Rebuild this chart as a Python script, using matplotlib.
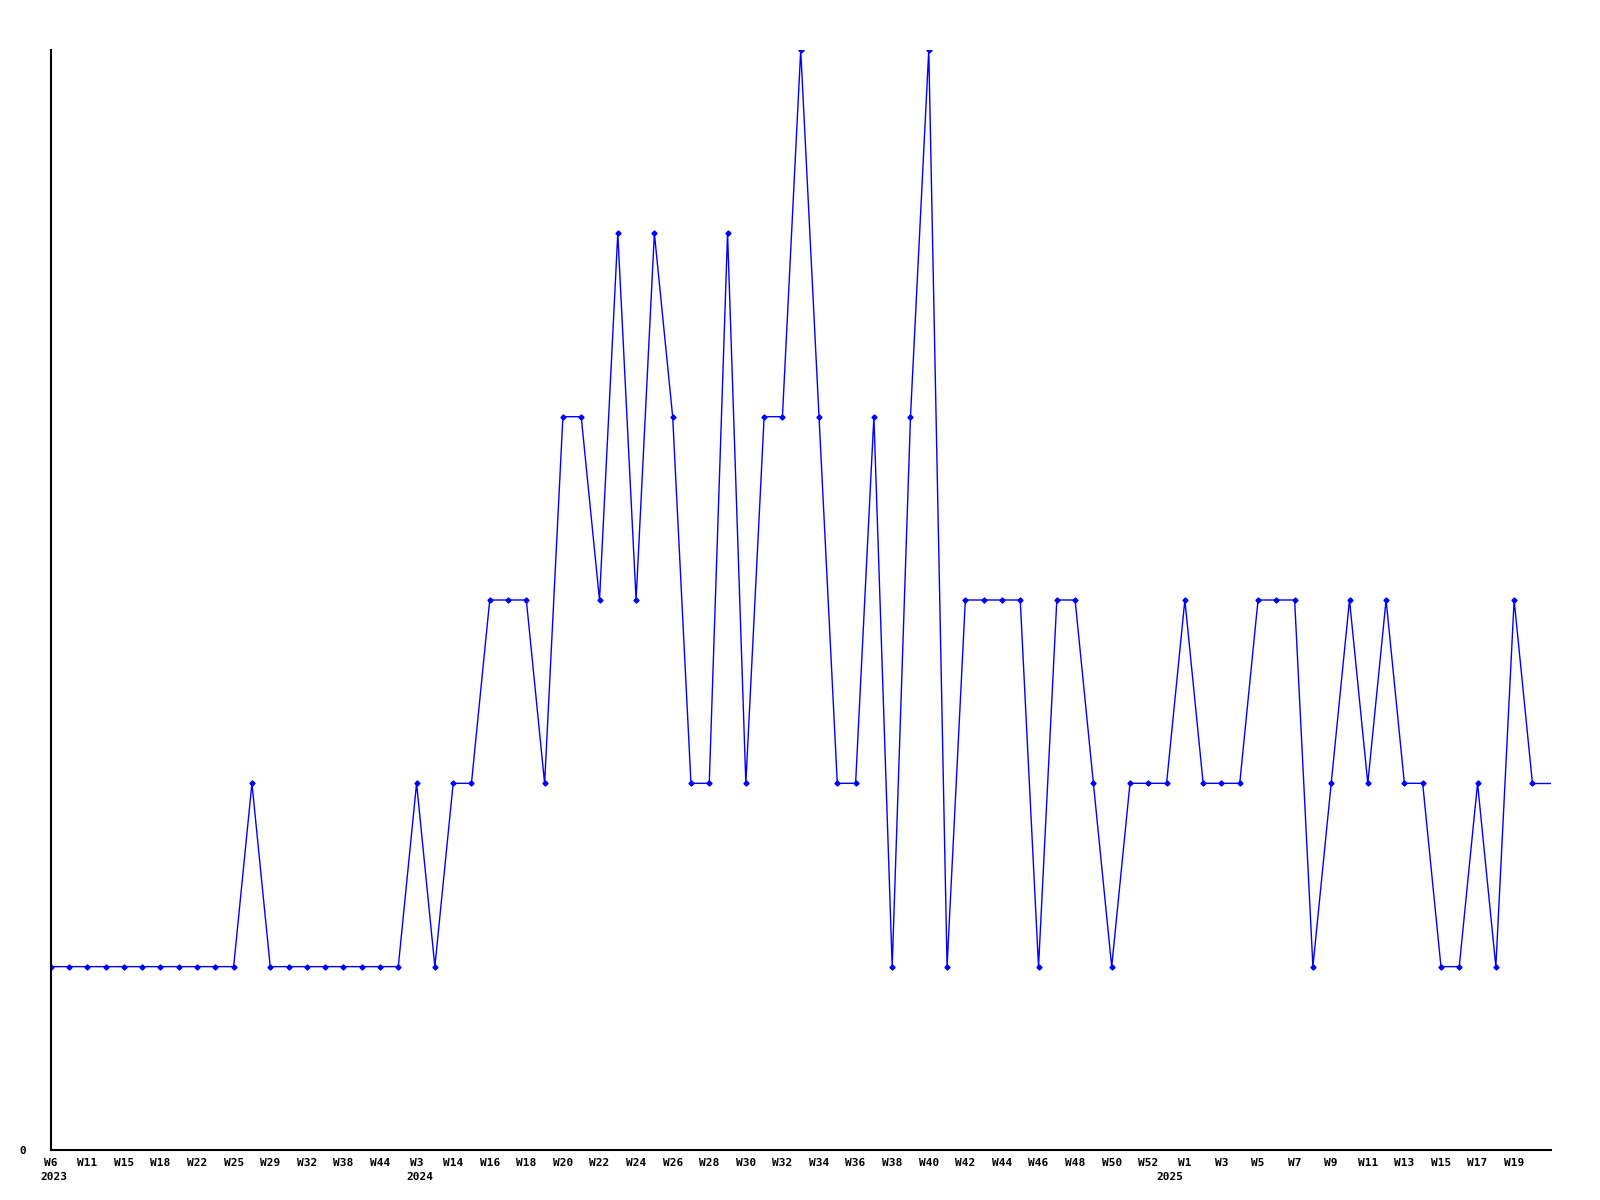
import matplotlib
matplotlib.use("Agg")
import matplotlib.pyplot as plt

# weekly counts, one entry per category on the x axis
values = [1, 1, 1, 1, 1, 1, 1, 1, 1, 1,
          1, 2, 1, 1, 1, 1, 1, 1, 1, 1,
          2, 1, 2, 2, 3, 3, 3, 2, 4, 4,
          3, 5, 3, 5, 4, 2, 2, 5, 2, 4,
          4, 6, 4, 2, 2, 4, 1, 4, 6, 1,
          3, 3, 3, 3, 1, 3, 3, 2, 1, 2,
          2, 2, 3, 2, 2, 2, 3, 3, 3, 1,
          2, 3, 2, 3, 2, 2, 1, 1, 2, 1,
          3, 2]

# labels shown on every second point
week_labels = ["W6", "W11", "W15", "W18", "W22", "W25", "W29", "W32", "W38", "W44",
               "W3", "W14", "W16", "W18", "W20", "W22", "W24", "W26", "W28", "W30",
               "W32", "W34", "W36", "W38", "W40", "W42", "W44", "W46", "W48", "W50",
               "W52", "W1", "W3", "W5", "W7", "W9", "W11", "W13", "W15", "W17",
               "W19"]
years = {0: "2023", 20: "2024", 61: "2025"}  # point index -> year

fs = 8
font = dict(family="DejaVu Sans Mono", weight="bold", size=fs)

fig = plt.figure(figsize=(16, 12), dpi=100)
ax = fig.add_axes([0.0317, 0.0417, 0.9375, 0.9166])

x = list(range(len(values)))
ax.plot(x, values, color="#0000ff", lw=1, marker="D", ms=2.6, mfc="#0000ff", mec="#0000ff")
# line keeps going flat to the right edge
ax.plot([x[-1], x[-1] + 1], [values[-1], values[-1]], color="#0000ff", lw=1)

ax.set_xlim(0, len(values))
ax.set_ylim(0, max(values))

for s in ["top", "right"]:
    ax.spines[s].set_visible(False)
for s in ["left", "bottom"]:
    ax.spines[s].set_linewidth(1.5)
    ax.spines[s].set_color("black")

tick_pos = [2 * i for i in range(len(week_labels))]
ax.set_xticks(tick_pos)
ax.set_xticklabels(week_labels, **font)
ax.tick_params(axis="x", length=0, pad=6)
ax.set_yticks([0])
ax.set_yticklabels(["0"], **font)
ax.tick_params(axis="y", length=0, pad=18)

for i, yr in years.items():
    ax.annotate(yr, xy=(i, 0), xycoords="data",
                xytext=(2.5, -16), textcoords="offset points",
                ha="center", va="top", **font)

fig.savefig("out.png", dpi=100, facecolor="white")
